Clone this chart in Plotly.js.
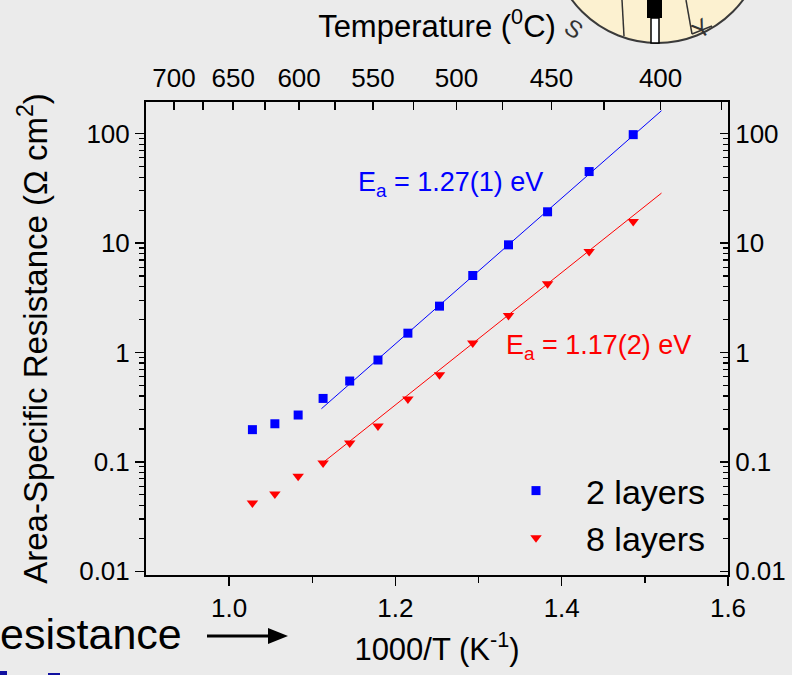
<!DOCTYPE html>
<html><head><meta charset="utf-8">
<script src="https://cdn.plot.ly/plotly-3.0.1.min.js"></script>
<style>html,body{margin:0;padding:0;background:#ebebeb;}#chart{width:792px;height:675px;}</style>
</head><body><div id="chart"></div>
<script>
// ---- data ----
const invT = [1.028, 1.055, 1.083, 1.113, 1.145, 1.179, 1.215, 1.253, 1.293, 1.336, 1.383, 1.433, 1.486];
const asr2 = [0.197, 0.223, 0.268, 0.380, 0.548, 0.853, 1.50, 2.65, 5.05, 9.63, 19.3, 45.0, 97.9];
const asr8 = [0.0421, 0.0509, 0.0738, 0.0977, 0.149, 0.213, 0.375, 0.626, 1.22, 2.18, 4.24, 8.36, 15.7];
const fitX = [1.111, 1.520];
const fit2 = [0.306, 162];
const fit8 = [0.096, 28.6];
const seriesNames = ['2 layers', '8 layers'];
const eaLabels = ['E<sub>a</sub> = 1.27(1) eV', 'E<sub>a</sub> = 1.17(2) eV'];
const tempMajor = [700, 650, 600, 550, 500, 450, 400];
const tempMinor = [725, 675, 625, 575, 525, 475, 425, 375];
const xTickVals = [1.0, 1.2, 1.4, 1.6];
const xTickText = ['1.0', '1.2', '1.4', '1.6'];
const xMinorVals = [1.1, 1.3, 1.5];
const yTickVals = [0.01, 0.1, 1, 10, 100];
const yTickText = ['0.01', '0.1', '1', '10', '100'];

// ---- layout helpers ----
const W = 792, H = 675, M = {l: 146, r: 64, t: 102, b: 100};
const PW = W - M.l - M.r, PH = H - M.t - M.b;
const px = x => (x - M.l) / PW;
const py = y => (H - M.b - y) / PH;
const toInv = t => 1000 / (t + 273.15);
const yMinor = [];
yTickVals.forEach(d => { for (let k = 2; k <= 9; k++) { const v = d * k; if (v < 195) yMinor.push(v); } });

const FONT = 'Arial, "Liberation Sans", sans-serif';
const BLUE = '#0000ff', RED = '#ff0000', BG = '#ebebeb';

const traces = [
  {x: invT, y: asr2, name: seriesNames[0], type: 'scatter', mode: 'markers',
   marker: {symbol: 'square', size: 9, color: BLUE}, xaxis: 'x', yaxis: 'y'},
  {x: invT, y: asr8, name: seriesNames[1], type: 'scatter', mode: 'markers',
   marker: {symbol: 'triangle-down', size: 10, color: RED}, xaxis: 'x', yaxis: 'y'},
  {x: fitX, y: fit2, type: 'scatter', mode: 'lines', line: {color: BLUE, width: 1},
   showlegend: false, hoverinfo: 'skip', xaxis: 'x', yaxis: 'y2'},
  {x: fitX, y: fit8, type: 'scatter', mode: 'lines', line: {color: RED, width: 1},
   showlegend: false, hoverinfo: 'skip', xaxis: 'x', yaxis: 'y2'},
  // empty trace so the top temperature axis is created
  {x: [], y: [], type: 'scatter', mode: 'markers', showlegend: false, hoverinfo: 'skip', xaxis: 'x2', yaxis: 'y'}
];

const yRange = [-2.034, 2.289];
const axCommon = {showline: true, linecolor: '#000', linewidth: 2, zeroline: false, showgrid: false,
  tickcolor: '#000', tickwidth: 1.5, tickfont: {family: FONT, size: 26, color: '#000'}};

const layout = {
  width: W, height: H, margin: M,
  paper_bgcolor: BG, plot_bgcolor: BG,
  font: {family: FONT, color: '#000'},
  xaxis: Object.assign({}, axCommon, {
    range: [0.9, 1.6], tickmode: 'array', tickvals: xTickVals, ticktext: xTickText,
    ticks: 'outside', ticklen: 9, anchor: 'y',
    minor: {tickmode: 'array', tickvals: xMinorVals, ticks: 'outside', ticklen: 6, tickwidth: 1.5, tickcolor: '#000'},
    title: {text: '1000/T (K<sup>-1</sup>)', font: {family: FONT, size: 31}, standoff: 16}
  }),
  xaxis2: Object.assign({}, axCommon, {
    overlaying: 'x', side: 'top', anchor: 'y',
    range: [1.0012, 1.549], tickmode: 'array', tickvals: tempMajor.map(toInv), ticktext: tempMajor.map(String),
    ticks: 'inside', ticklen: 8, ticklabelstandoff: 3,
    minor: {tickmode: 'array', tickvals: tempMinor.map(toInv), ticks: 'inside', ticklen: 8, tickwidth: 1.5, tickcolor: '#000'},
    title: {text: 'Temperature (<sup>0</sup>C)', font: {family: FONT, size: 31}, standoff: 16}
  }),
  yaxis: Object.assign({}, axCommon, {
    type: 'log', range: yRange, tickmode: 'array', tickvals: yTickVals, ticktext: yTickText,
    ticks: 'outside', ticklen: 9,
    minor: {tickmode: 'array', tickvals: yMinor, ticks: 'outside', ticklen: 5, tickwidth: 1.2, tickcolor: '#000'},
    title: {text: 'Area-Specific Resistance (Ω cm<sup>2</sup>)', font: {family: FONT, size: 33}, standoff: 22}
  }),
  yaxis2: Object.assign({}, axCommon, {
    type: 'log', range: yRange, overlaying: 'y', side: 'right', anchor: 'x',
    tickmode: 'array', tickvals: yTickVals, ticktext: yTickText,
    ticks: 'inside', ticklen: 8,
    minor: {tickmode: 'array', tickvals: yMinor, ticks: 'inside', ticklen: 5, tickwidth: 1.2, tickcolor: '#000'}
  }),
  legend: {x: px(486), y: py(462), xanchor: 'left', yanchor: 'top', bgcolor: 'rgba(0,0,0,0)',
    font: {family: FONT, size: 34, color: '#000'}, itemwidth: 90, tracegroupgap: 0},
  annotations: [
    {xref: 'x', yref: 'y', x: 1.153, y: Math.log10(35), xanchor: 'left', yanchor: 'middle',
     text: eaLabels[0], showarrow: false, font: {family: FONT, size: 27, color: BLUE}},
    {xref: 'x', yref: 'y', x: 1.330, y: Math.log10(1.13), xanchor: 'left', yanchor: 'middle',
     text: eaLabels[1], showarrow: false, font: {family: FONT, size: 27, color: RED}},
    {xref: 'paper', yref: 'paper', x: px(184), y: py(634), xanchor: 'right', yanchor: 'middle',
     text: 'Resistance', showarrow: false, font: {family: FONT, size: 43, color: '#000'}},
    {xref: 'paper', yref: 'paper', x: px(591), y: py(10), text: 'S', textangle: 35, showarrow: false,
     font: {family: FONT, size: 24, color: '#333'}},
    {xref: 'paper', yref: 'paper', x: px(718), y: py(10), text: 'Y', textangle: -35, showarrow: false,
     font: {family: FONT, size: 24, color: '#333'}}
  ],
  shapes: [
    // logo (partially cut at top-right)
    {type: 'circle', xref: 'paper', yref: 'paper', x0: px(551), x1: px(764), y0: py(43), y1: py(-170),
     fillcolor: '#fcf1d0', line: {color: '#3a3a3a', width: 2}, layer: 'below'},
    {type: 'line', xref: 'paper', yref: 'paper', x0: px(622), x1: px(624), y0: py(0), y1: py(36), line: {color: '#333', width: 1.5}},
    {type: 'line', xref: 'paper', yref: 'paper', x0: px(686), x1: px(692), y0: py(0), y1: py(34), line: {color: '#333', width: 1.5}},
    {type: 'line', xref: 'paper', yref: 'paper', x0: px(692), x1: px(712), y0: py(34), y1: py(26), line: {color: '#333', width: 1.5}},
    {type: 'rect', xref: 'paper', yref: 'paper', x0: px(647), x1: px(662), y0: py(0), y1: py(18), fillcolor: '#000', line: {width: 0}},
    {type: 'rect', xref: 'paper', yref: 'paper', x0: px(651), x1: px(659), y0: py(18), y1: py(43), fillcolor: '#fff', line: {color: '#000', width: 1.5}},
    // arrow next to "Resistance"
    {type: 'line', xref: 'paper', yref: 'paper', x0: px(207), x1: px(272), y0: py(636), y1: py(636), line: {color: '#000', width: 3}},
    {type: 'path', xref: 'paper', yref: 'paper',
     path: `M ${px(268)} ${py(628)} L ${px(288)} ${py(636)} L ${px(268)} ${py(644)} Z`, fillcolor: '#000', line: {width: 0}},
    // cut-off blue marks at the bottom edge
    {type: 'rect', xref: 'paper', yref: 'paper', x0: px(0), x1: px(7), y0: py(675), y1: py(671), fillcolor: '#1010a0', line: {width: 0}},
    {type: 'rect', xref: 'paper', yref: 'paper', x0: px(48), x1: px(60), y0: py(675), y1: py(673), fillcolor: '#1010a0', line: {width: 0}}
  ]
};

Plotly.newPlot('chart', traces, layout, {staticPlot: true, displayModeBar: false});
</script>
</body></html>
